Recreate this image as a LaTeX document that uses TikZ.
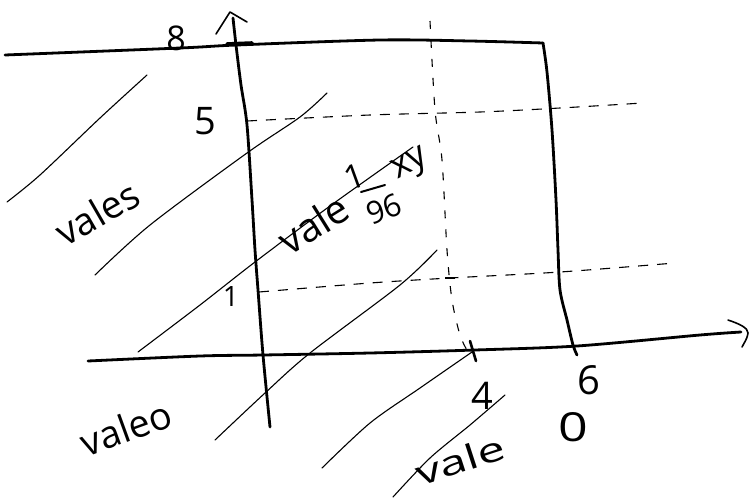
\documentclass[tikz,border=0pt]{standalone}
\usepackage{fontspec}
\setmainfont{Open Sans}
\begin{document}
\begin{tikzpicture}[x=1pt,y=-1pt,
  axisline/.style={line width=2.8pt, line cap=round, line join=round},
  thinline/.style={line width=1.1pt, line cap=round},
  dashline/.style={line width=1.1pt, dash pattern=on 10pt off 9pt},
  vdashline/.style={line width=1.1pt, dash pattern=on 8pt off 11pt},
  lbl/.style={inner sep=0pt, font=\fontsize{#1}{#1}\selectfont},
]
\useasboundingbox (0,0) rectangle (749,498);

% named coordinates
\coordinate (ytop) at (233,18);
\coordinate (xtip) at (741,332);

% top horizontal line
\draw[axisline] plot[smooth] coordinates {(5,55) (180,48) (237,45) (380,40) (470,41) (543,43)};
% tick on top line
\draw[line width=3.6pt, line cap=round] (227,44) -- (252,43);
% right vertical
\draw[axisline] plot[smooth] coordinates {(543,43) (547,72) (552,130) (556,200) (558,250) (560,290) (567,320) (573,345) (577,355)};
% y axis
\draw[axisline] plot[smooth] coordinates {(ytop) (236,45) (241,85) (247,125) (252,200) (255,250) (258,290) (263,355) (270,427)};
\draw[line width=1.6pt, line cap=round, line join=round] (216,34) -- (230,12) -- (247,22);
% x axis
\draw[axisline] plot[smooth] coordinates {(88,361) (200,356) (263,355) (370,353) (475,350) (577,346) (700,335) (xtip)};
\draw[line width=1.6pt, line cap=round, line join=round] (728,320) .. controls (740,324) and (748,328) .. (748,333) .. controls (747,338) .. (742,347);
% tick at 4
\draw[line width=2.6pt, line cap=round] (470,341) -- (476,361);

% dashed lines
\draw[dashline] plot[smooth] coordinates {(247,121) (370,115) (480,112) (560,108) (643,103)};
\draw[dashline] plot[smooth] coordinates {(259,292) (370,283) (450,278) (560,272) (675,263)};
\draw[vdashline] plot[smooth] coordinates {(430,21) (435,110) (442,160) (447,250) (452,300) (460,335) (468,352)};
\draw[line width=1.1pt] (445,278) -- (455,278);

% diagonal hatching lines
\draw[thinline] plot[smooth] coordinates {(7,202) (40,175) (100,118) (147,75)};
\draw[thinline] plot[smooth] coordinates {(327,93) (300,117) (247,153) (150,225) (95,275)};
\draw[thinline] plot[smooth] coordinates {(413,147) (330,206) (255,262) (200,305) (138,352)};
\draw[thinline] plot[smooth] coordinates {(437,250) (400,285) (310,353) (265,393) (215,440)};
\draw[thinline] plot[smooth] coordinates {(472,352) (420,388) (370,423) (322,468)};
\draw[thinline] plot[smooth] coordinates {(505,395) (470,425) (430,458) (393,497)};

% labels
\node[lbl=34] (l8) at (176,38) {8};
\node[lbl=38] (l5) at (205,121) {5};
\node[lbl=28] (l1) at (231,297) {1};
\node[lbl=38] (l4) at (482,396) {4};
\node[lbl=40] (l6) at (589,380) {6};
\node[lbl=40, xscale=1.3] (l0) at (573,427) {0};

\node[lbl=38, rotate=30] (vales) at (97,213) {vales};
\node[lbl=38, rotate=20] (valeo) at (126,428) {valeo};
\node[lbl=34, rotate=18, xscale=1.45] (valeb) at (460,460) {vale};
\node[lbl=40, rotate=32] (valem) at (313,224) {vale};
% fraction 1/96
\node[lbl=34, rotate=20] (fnum) at (354,177) {1};
\node[lbl=31, rotate=20] (fden) at (384,209) {96};
\draw[line width=2pt, line cap=round] (361,192) -- (385,185);
\node[lbl=36, rotate=28] (xy) at (411,166) {xy};
\end{tikzpicture}
\end{document}
